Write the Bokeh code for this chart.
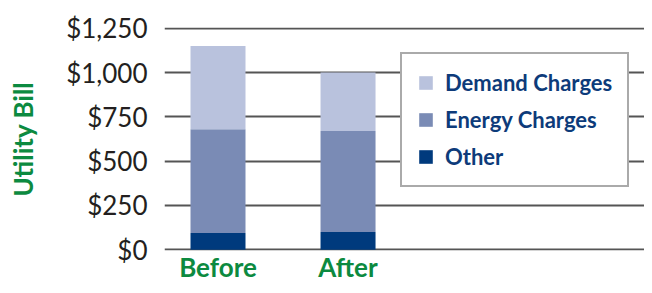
from bokeh.plotting import figure
from bokeh.models import Range1d, FixedTicker, NumeralTickFormatter, ColumnDataSource
from bokeh.embed import file_html
from bokeh.resources import INLINE

categories = ["Before", "After"]
other = [95, 100]
energy = [585, 570]
demand = [470, 330]
y_ticks = [0, 250, 500, 750, 1000, 1250]
series = ["other", "energy", "demand"]
series_labels = ["Other", "Energy Charges", "Demand Charges"]
colors = ["#003A7D", "#7A8BB5", "#B9C2DD"]

GREEN = "#0C8A40"
BLUE = "#0D3B7A"
FONT = "Lato"

xs = list(range(len(categories)))
src = ColumnDataSource(dict(x=xs, other=other, energy=energy, demand=demand))

p = figure(width=644, height=285, output_backend="svg", toolbar_location=None,
           x_range=Range1d(-0.4115, 3.28), y_range=Range1d(-4, 1254),
           min_border_left=164, min_border_right=0, min_border_top=27, min_border_bottom=30)

p.vbar_stack(series, x="x", width=0.423, color=colors, line_color=None, source=src,
             legend_label=series_labels)

p.outline_line_color = None
p.xgrid.visible = False
p.ygrid.ticker = FixedTicker(ticks=y_ticks)
p.ygrid.grid_line_color = "#555555"
p.ygrid.grid_line_width = 2

for ax in (p.xaxis[0], p.yaxis[0]):
    ax.axis_line_color = None
    ax.major_tick_line_color = None
    ax.minor_tick_line_color = None
    ax.major_tick_out = 0
    ax.major_tick_in = 0
    ax.minor_tick_out = 0
    ax.minor_tick_in = 0

# y axis
p.yaxis.ticker = FixedTicker(ticks=y_ticks)
p.yaxis.formatter = NumeralTickFormatter(format="$0,0")
p.yaxis.major_label_text_font = FONT
p.yaxis.major_label_text_font_size = "26px"
p.yaxis.major_label_text_color = "#231F20"
p.yaxis.major_label_standoff = 17
p.yaxis.axis_label = "Utility Bill"
p.yaxis.axis_label_text_font = FONT
p.yaxis.axis_label_text_font_style = "bold"
p.yaxis.axis_label_text_font_size = "26px"
p.yaxis.axis_label_text_color = GREEN
p.yaxis.axis_label_standoff = 24

# x axis
p.xaxis.ticker = FixedTicker(ticks=xs)
p.xaxis.major_label_overrides = {i: c for i, c in enumerate(categories)}
p.xaxis.major_label_text_font = FONT
p.xaxis.major_label_text_font_style = "bold"
p.xaxis.major_label_text_font_size = "26px"
p.xaxis.major_label_text_line_height = 0.8
p.xaxis.major_label_text_color = GREEN
p.xaxis.major_label_standoff = 0

# legend
lg = p.legend[0]
lg.items = list(reversed(lg.items))
lg.location = (236, 63)
lg.border_line_color = "#555555"
lg.border_line_width = 2
lg.background_fill_alpha = 1
lg.label_text_font = FONT
lg.label_text_font_style = "bold"
lg.label_text_font_size = "22px"
lg.label_text_color = BLUE
lg.glyph_width = 17
lg.glyph_height = 17
lg.label_height = 26
lg.label_standoff = 11
lg.spacing = 10
lg.padding = 15
lg.margin = 0

open("out.html", "w").write(file_html(p, INLINE))
